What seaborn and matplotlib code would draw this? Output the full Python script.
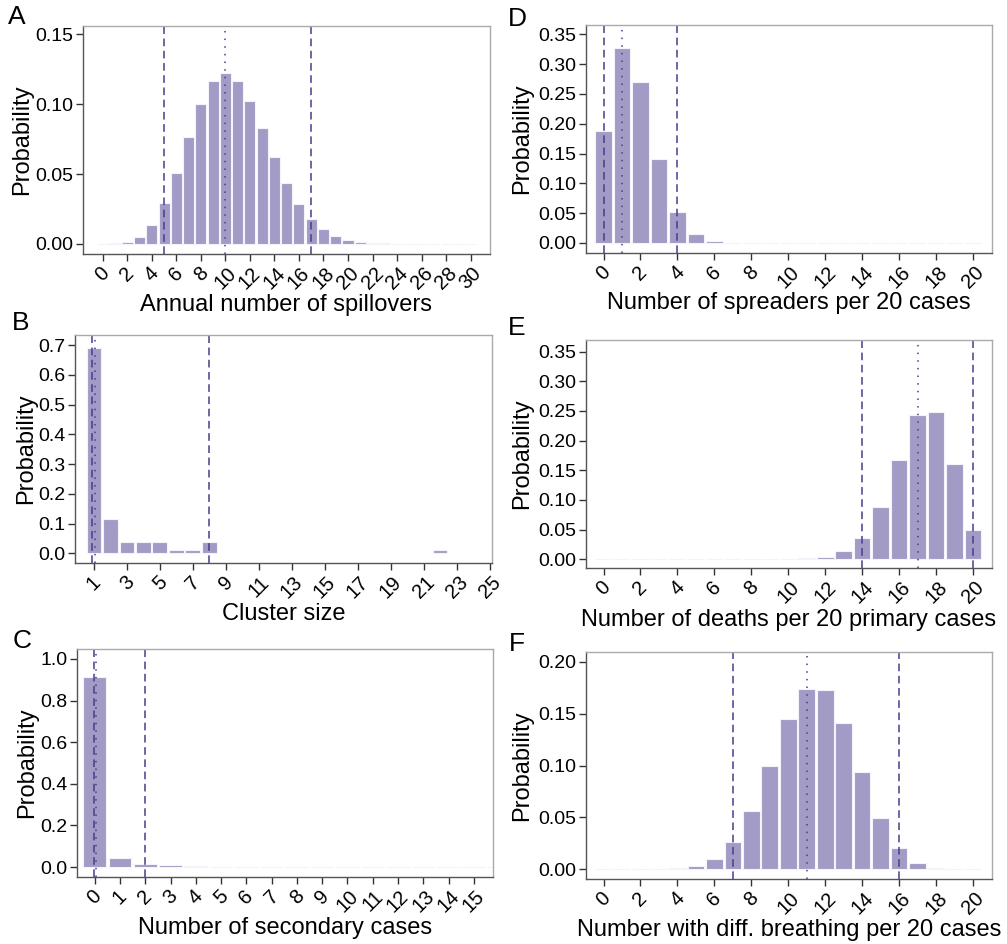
import numpy as np
import pandas as pd
import seaborn as sns
import matplotlib
matplotlib.use("Agg")
import matplotlib.pyplot as plt

sns.set_style("ticks")
plt.rcParams["font.family"] = ["Liberation Sans", "DejaVu Sans"]
plt.rcParams["text.color"] = "black"
plt.rcParams["axes.labelcolor"] = "black"

BAR = "#a29bc6"
LINE = "#483d8b"

# A: annual number of spillovers
spill_x = list(range(0, 31))
spill_p = [0.0002, 0.0008, 0.0014, 0.0052, 0.0136, 0.029, 0.051, 0.0763, 0.100, 0.1166,
           0.1226, 0.1169, 0.1023, 0.0828, 0.062, 0.0434, 0.0286, 0.0176, 0.0105, 0.0057,
           0.0029, 0.0014, 0.0008, 0.0005, 0.0003, 0.0002, 0.0001, 0.0001, 0.0001, 0.0001, 0.0001]
spill_lines = [5, 10, 17]

# B: cluster size
cluster_x = [1, 2, 3, 4, 5, 6, 7, 8, 22]
cluster_p = [0.689, 0.1167, 0.038, 0.038, 0.038, 0.0123, 0.0123, 0.038, 0.0123]
cluster_lines = [0.87, 1.08, 8]

# C: secondary cases
second_x = list(range(0, 17))
second_p = [0.913, 0.043, 0.016, 0.008, 0.0035, 0.002, 0.0015, 0.001, 0.0008, 0.0005,
            0.0003, 0.0002, 0.0002, 0.0002, 0.0001, 0.0001, 0.0001]
second_lines = [-0.03, 0.07, 2]

# D: spreaders per 20 cases
spread_x = list(range(0, 21))
spread_p = [0.188, 0.3266, 0.2708, 0.1407, 0.0525, 0.0145, 0.0034, 0.0008, 0.0004, 0.0003,
            0.0002, 0.0002, 0.0002, 0.0002, 0.0002, 0.0002, 0.0002, 0.0002, 0.0002, 0.0002, 0.0002]
spread_lines = [0, 1, 4]

# E: deaths per 20 primary cases
death_x = list(range(0, 21))
death_p = [0.0002, 0.0002, 0.0002, 0.0002, 0.0002, 0.0002, 0.0002, 0.0002, 0.0002, 0.0003,
           0.0008, 0.0028, 0.004, 0.0135, 0.0366, 0.0884, 0.168, 0.2425, 0.2487, 0.161, 0.050]
death_lines = [14, 17, 20]

# F: difficulty breathing per 20 cases
breath_x = list(range(0, 21))
breath_p = [0.0001, 0.0002, 0.0002, 0.0004, 0.0006, 0.0029, 0.0096, 0.026, 0.0559, 0.0992,
            0.1445, 0.1743, 0.1733, 0.1412, 0.0934, 0.0491, 0.0199, 0.0061, 0.0013, 0.0004, 0.0001]
breath_lines = [7, 11, 16]

W, H = 1007, 944
fig = plt.figure(figsize=(W / 100, H / 100), dpi=100)


def box(l, r, t, b):
    return [l / W, 1 - b / H, (r - l) / W, (b - t) / H]


panels = [
    dict(tag="A", pos=(83, 490, 26, 254), tagxy=(17, 17), x=spill_x, p=spill_p, lines=spill_lines,
         xlim=(-1.61, 31.58), ylim=(-0.0072, 0.156), xt=range(0, 31, 2),
         yt=np.arange(0, 0.151, 0.05), fmt="{:.2f}", xlab="Annual number of spillovers", xlaby=305),
    dict(tag="B", pos=(75, 492, 335, 563), tagxy=(21, 323), x=cluster_x, p=cluster_p, lines=cluster_lines,
         xlim=(-0.15, 25.15), ylim=(-0.0326, 0.734), xt=range(1, 26, 2),
         yt=np.arange(0, 0.71, 0.1), fmt="{:.1f}", xlab="Cluster size", xlaby=614),
    dict(tag="C", pos=(77, 493, 649, 877), tagxy=(22, 641), x=second_x, p=second_p, lines=second_lines,
         xlim=(-0.70, 15.76), ylim=(-0.048, 1.048), xt=range(0, 16),
         yt=np.arange(0, 1.01, 0.2), fmt="{:.1f}", xlab="Number of secondary cases", xlaby=928),
    dict(tag="D", pos=(586, 992, 25, 253), tagxy=(517, 19), x=spread_x, p=spread_p, lines=spread_lines,
         xlim=(-0.95, 21.03), ylim=(-0.0168, 0.3656), xt=range(0, 21, 2),
         yt=np.arange(0, 0.351, 0.05), fmt="{:.2f}", xlab="Number of spreaders per 20 cases", xlaby=303),
    dict(tag="E", pos=(586, 992, 340, 568), tagxy=(517, 328), x=death_x, p=death_p, lines=death_lines,
         xlim=(-0.95, 21.03), ylim=(-0.0147, 0.3697), xt=range(0, 21, 2),
         yt=np.arange(0, 0.351, 0.05), fmt="{:.2f}", xlab="Number of deaths per 20 primary cases", xlaby=620),
    dict(tag="F", pos=(586, 992, 652, 879), tagxy=(517, 644), x=breath_x, p=breath_p, lines=breath_lines,
         xlim=(-0.95, 21.03), ylim=(-0.0096, 0.2096), xt=range(0, 21, 2),
         yt=np.arange(0, 0.201, 0.05), fmt="{:.2f}", xlab="Number with diff. breathing per 20 cases", xlaby=930),
]

for pn in panels:
    l, r, t, b = pn["pos"]
    ax = fig.add_axes(box(l, r, t, b))
    df = pd.DataFrame({"x": pn["x"], "p": pn["p"]})
    sns.barplot(data=df, x="x", y="p", native_scale=True, width=0.9, color=BAR, saturation=1,
                edgecolor="#f4f2fa", linewidth=0.8, errorbar=None, ax=ax)
    lo, mid, hi = pn["lines"]
    ax.axvline(lo, color=LINE, lw=1.1, dashes=(5, 3))
    ax.axvline(hi, color=LINE, lw=1.1, dashes=(5, 3))
    ax.axvline(mid, color=LINE, lw=1.1, dashes=(1, 4))

    ax.set_xlim(*pn["xlim"])
    ax.set_ylim(*pn["ylim"])
    ax.set_xticks(list(pn["xt"]))
    ax.set_xticklabels([str(v) for v in pn["xt"]], rotation=45, ha="center")
    ax.set_yticks(pn["yt"])
    ax.set_yticklabels([pn["fmt"].format(v) for v in pn["yt"]])
    ax.tick_params(length=5, width=1, color="#333333", pad=2, labelcolor="black")
    ax.tick_params(axis="y", labelsize=14)
    ax.tick_params(axis="x", labelsize=14.5)

    for s in ["left", "bottom"]:
        ax.spines[s].set_color("#555555")
        ax.spines[s].set_linewidth(1)
    for s in ["top", "right"]:
        ax.spines[s].set_visible(True)
        ax.spines[s].set_color("#aaaaaa")
        ax.spines[s].set_linewidth(1)

    wpx, hpx = r - l, b - t
    ax.set_ylabel("Probability", fontsize=17, color="black")
    ax.yaxis.label.set_va("center")
    ax.yaxis.set_label_coords((pn["tagxy"][0] + 5 - l) / wpx, 0.5)
    ax.set_xlabel(pn["xlab"], fontsize=17, color="black")
    ax.xaxis.label.set_va("center")
    ax.xaxis.set_label_coords(0.5, (b - pn["xlaby"]) / hpx)

    tx, ty = pn["tagxy"]
    fig.text(tx / W, 1 - ty / H, pn["tag"], fontsize=19, ha="center", va="center", color="black")

fig.savefig("out.png", dpi=100)
